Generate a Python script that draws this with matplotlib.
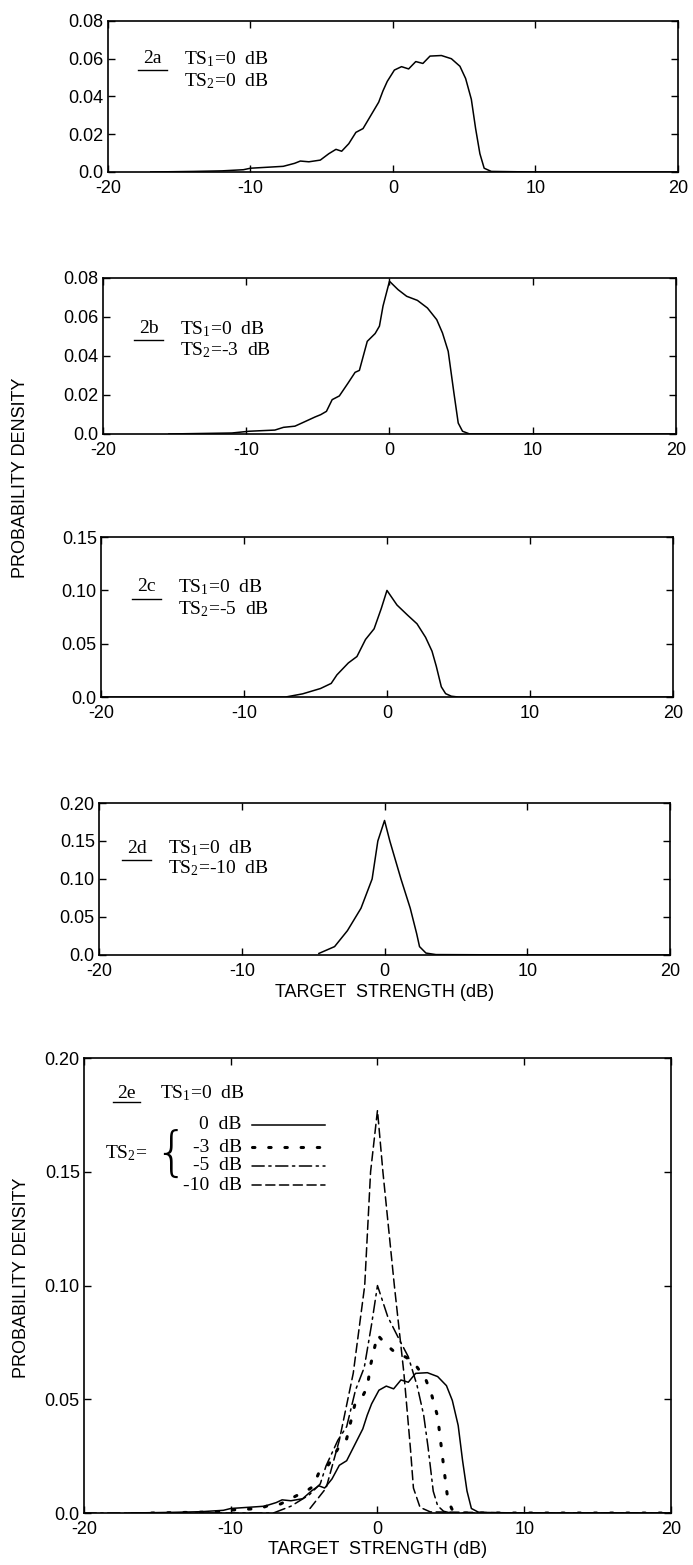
import matplotlib.pyplot as plt

plt.rcParams['font.family'] = ['Liberation Sans', 'DejaVu Sans']
plt.rcParams['mathtext.fontset'] = 'custom'
plt.rcParams['mathtext.rm'] = 'Liberation Serif'
plt.rcParams['mathtext.default'] = 'rm'

# target strength axis
x_ticks = [-20, -10, 0, 10, 20]
x_tick_labels = ['-20', '-10', '0', '10', '20']

# 2a: TS1=0 dB, TS2=0 dB
ts_a = [-17, -14, -12, -10.5, -10, -7.7, -6.9, -6.5, -5.9, -5.1, -4.5, -4.0, -3.6, -3.1,
        -2.6, -2.1, -1.55, -1.0, -0.7, -0.4, 0.1, 0.6, 1.1, 1.6, 2.1, 2.6, 3.4, 4.1, 4.7,
        5.1, 5.5, 5.8, 6.1, 6.4, 6.9, 10, 20]
pd_a = [0, 0.0003, 0.0006, 0.0012, 0.002, 0.003, 0.0046, 0.0058, 0.0054, 0.0063, 0.0097,
        0.012, 0.011, 0.015, 0.021, 0.023, 0.030, 0.037, 0.043, 0.048, 0.054, 0.0558,
        0.0546, 0.0585, 0.0575, 0.0614, 0.0617, 0.060, 0.056, 0.0495, 0.0385, 0.023,
        0.0097, 0.002, 0.0003, 0, 0]

# 2b: TS2=-3 dB
ts_b = [-15.4, -11, -9.8, -8, -7.4, -6.6, -6.0, -5.2, -4.8, -4.4, -4.0, -3.5, -2.9, -2.4,
        -2.1, -1.55, -1.0, -0.7, -0.45, 0, 0.6, 1.2, 1.95, 2.65, 3.3, 3.7, 4.1, 4.5, 4.8,
        5.1, 5.6, 10, 20]
pd_b = [0, 0.0005, 0.0014, 0.002, 0.0034, 0.004, 0.006, 0.0087, 0.0099, 0.0116, 0.0176,
        0.0195, 0.026, 0.0316, 0.0326, 0.0475, 0.0515, 0.0553, 0.0656, 0.0783, 0.074,
        0.0706, 0.0685, 0.0646, 0.0586, 0.0518, 0.0424, 0.021, 0.0056, 0.0014, 0, 0, 0]

# 2c: TS2=-5 dB
ts_c = [-20, -7.1, -5.9, -4.65, -3.9, -3.5, -2.7, -2.1, -1.5, -0.9, -0.4, 0, 0.7, 1.45,
        2.1, 2.7, 3.15, 3.45, 3.8, 4.1, 4.5, 5, 20]
pd_c = [0, 0, 0.003, 0.008, 0.0128, 0.0208, 0.032, 0.038, 0.054, 0.064, 0.083, 0.100,
        0.0863, 0.0767, 0.0687, 0.056, 0.043, 0.0288, 0.0096, 0.0032, 0.0008, 0, 0]

# 2d: TS2=-10 dB
ts_d = [-4.6, -3.5, -2.6, -1.65, -0.87, -0.47, 0, 0.37, 1.15, 1.8, 2.25, 2.45, 2.9, 3.6, 10, 20]
pd_d = [0.002, 0.011, 0.032, 0.0615, 0.100, 0.150, 0.177, 0.150, 0.100, 0.0615, 0.028,
        0.011, 0.0025, 0.0005, 0, 0]

ts2_labels = ['0 dB', '-3 dB', '-5 dB', '-10 dB']

mono = ['Liberation Serif', 'DejaVu Serif']
fs_tag = 14

fig = plt.figure(figsize=(6.93, 15.65), dpi=100)


def style(ax, yticks, ylabels):
    ax.set_xlim(-20, 20)
    ax.set_ylim(0, yticks[-1])
    ax.set_xticks(x_ticks)
    ax.set_xticklabels(x_tick_labels)
    ax.set_yticks(yticks)
    ax.set_yticklabels(ylabels)
    ax.tick_params(axis='both', direction='in', top=True, right=True, length=5,
                   width=1, labelsize=13)
    ax.tick_params(axis='x', pad=6)
    ax.tick_params(axis='y', pad=3)
    for s in ax.spines.values():
        s.set_linewidth(1.2)


def tag(ax, name, ts2, x0, y0, y1):
    ax.text(x0, y0, name, transform=ax.transAxes, family=mono, fontsize=fs_tag,
            ha='center', va='center')
    ax.plot([x0 - 0.025, x0 + 0.025], [y0 - 0.075, y0 - 0.075], transform=ax.transAxes,
            color='black', lw=1)
    ax.text(x0 + 0.055, y0, 'TS$_1$=0  dB', transform=ax.transAxes, family=mono,
            fontsize=fs_tag, va='center')
    ax.text(x0 + 0.055, y1, 'TS$_2$=' + ts2, transform=ax.transAxes, family=mono,
            fontsize=fs_tag, va='center')


y08 = [0.0, 0.02, 0.04, 0.06, 0.08]
y08_lab = ['0.0', '0.02', '0.04', '0.06', '0.08']
y15 = [0.0, 0.05, 0.10, 0.15]
y15_lab = ['0.0', '0.05', '0.10', '0.15']
y20 = [0.0, 0.05, 0.10, 0.15, 0.20]
y20_lab = ['0.0', '0.05', '0.10', '0.15', '0.20']

ax_a = fig.add_axes([0.1558, 0.8901, 0.8225, 0.0965])
ax_a.plot(ts_a, pd_a, color='black', lw=1.1)
style(ax_a, y08, y08_lab)
tag(ax_a, '2a', '0  dB', 0.078, 0.75, 0.60)

ax_b = fig.add_axes([0.1486, 0.7227, 0.8268, 0.0997])
ax_b.plot(ts_b, pd_b, color='black', lw=1.1)
style(ax_b, y08, y08_lab)
tag(ax_b, '2b', '-3  dB', 0.08, 0.675, 0.54)

ax_c = fig.add_axes([0.1457, 0.5546, 0.8254, 0.1022])
ax_c.plot(ts_c, pd_c, color='black', lw=1.1)
style(ax_c, y15, y15_lab)
tag(ax_c, '2c', '-5  dB', 0.08, 0.69, 0.55)

ax_d = fig.add_axes([0.1429, 0.3898, 0.8240, 0.0971])
ax_d.plot(ts_d, pd_d, color='black', lw=1.1)
style(ax_d, y20, y20_lab)
tag(ax_d, '2d', '-10  dB', 0.066, 0.70, 0.57)
ax_d.set_xlabel('TARGET  STRENGTH (dB)', fontsize=13, labelpad=3)

fig.text(0.029, 0.6946, 'PROBABILITY DENSITY', rotation=90, fontsize=13,
         ha='center', va='center')

# 2e: all four curves together
ax_e = fig.add_axes([0.1212, 0.0332, 0.8470, 0.2907])
styles = ['-', (0, (0.8, 4.5)), (0, (8, 3, 1.5, 3)), (0, (6, 3))]
widths = [1.1, 2.2, 1.1, 1.1]
for ts, pd, ls, lw in zip([ts_a, ts_b, ts_c, ts_d], [pd_a, pd_b, pd_c, pd_d], styles, widths):
    ax_e.plot(ts, pd, color='black', lw=lw, linestyle=ls, dash_capstyle='round')
style(ax_e, y20, y20_lab)
ax_e.set_xlabel('TARGET  STRENGTH (dB)', fontsize=13, labelpad=2)
fig.text(0.031, 0.1834, 'PROBABILITY DENSITY', rotation=90, fontsize=13,
         ha='center', va='center')

ax_e.text(0.073, 0.923, '2e', transform=ax_e.transAxes, family=mono, fontsize=fs_tag,
          ha='center', va='center')
ax_e.plot([0.050, 0.096], [0.903, 0.903], transform=ax_e.transAxes, color='black', lw=1)
ax_e.text(0.129, 0.923, 'TS$_1$=0  dB', transform=ax_e.transAxes, family=mono,
          fontsize=fs_tag, va='center')
ax_e.text(0.108, 0.791, 'TS$_2$=', transform=ax_e.transAxes, family=mono,
          fontsize=fs_tag, ha='right', va='center')
ax_e.text(0.148, 0.787, '{', transform=ax_e.transAxes, family=['DejaVu Sans'],
          fontsize=38, fontweight='ultralight', ha='center', va='center')
rows = [0.853, 0.804, 0.763, 0.721]
for lab, yy, ls, lw in zip(ts2_labels, rows, styles, widths):
    ax_e.text(0.269, yy, lab.replace(' ', '  '), transform=ax_e.transAxes, family=mono,
              fontsize=fs_tag, ha='right', va='center')
    ax_e.plot([0.286, 0.411], [yy, yy], transform=ax_e.transAxes, color='black',
              lw=lw, linestyle=ls, dash_capstyle='round')

fig.savefig('out.png', dpi=100)
